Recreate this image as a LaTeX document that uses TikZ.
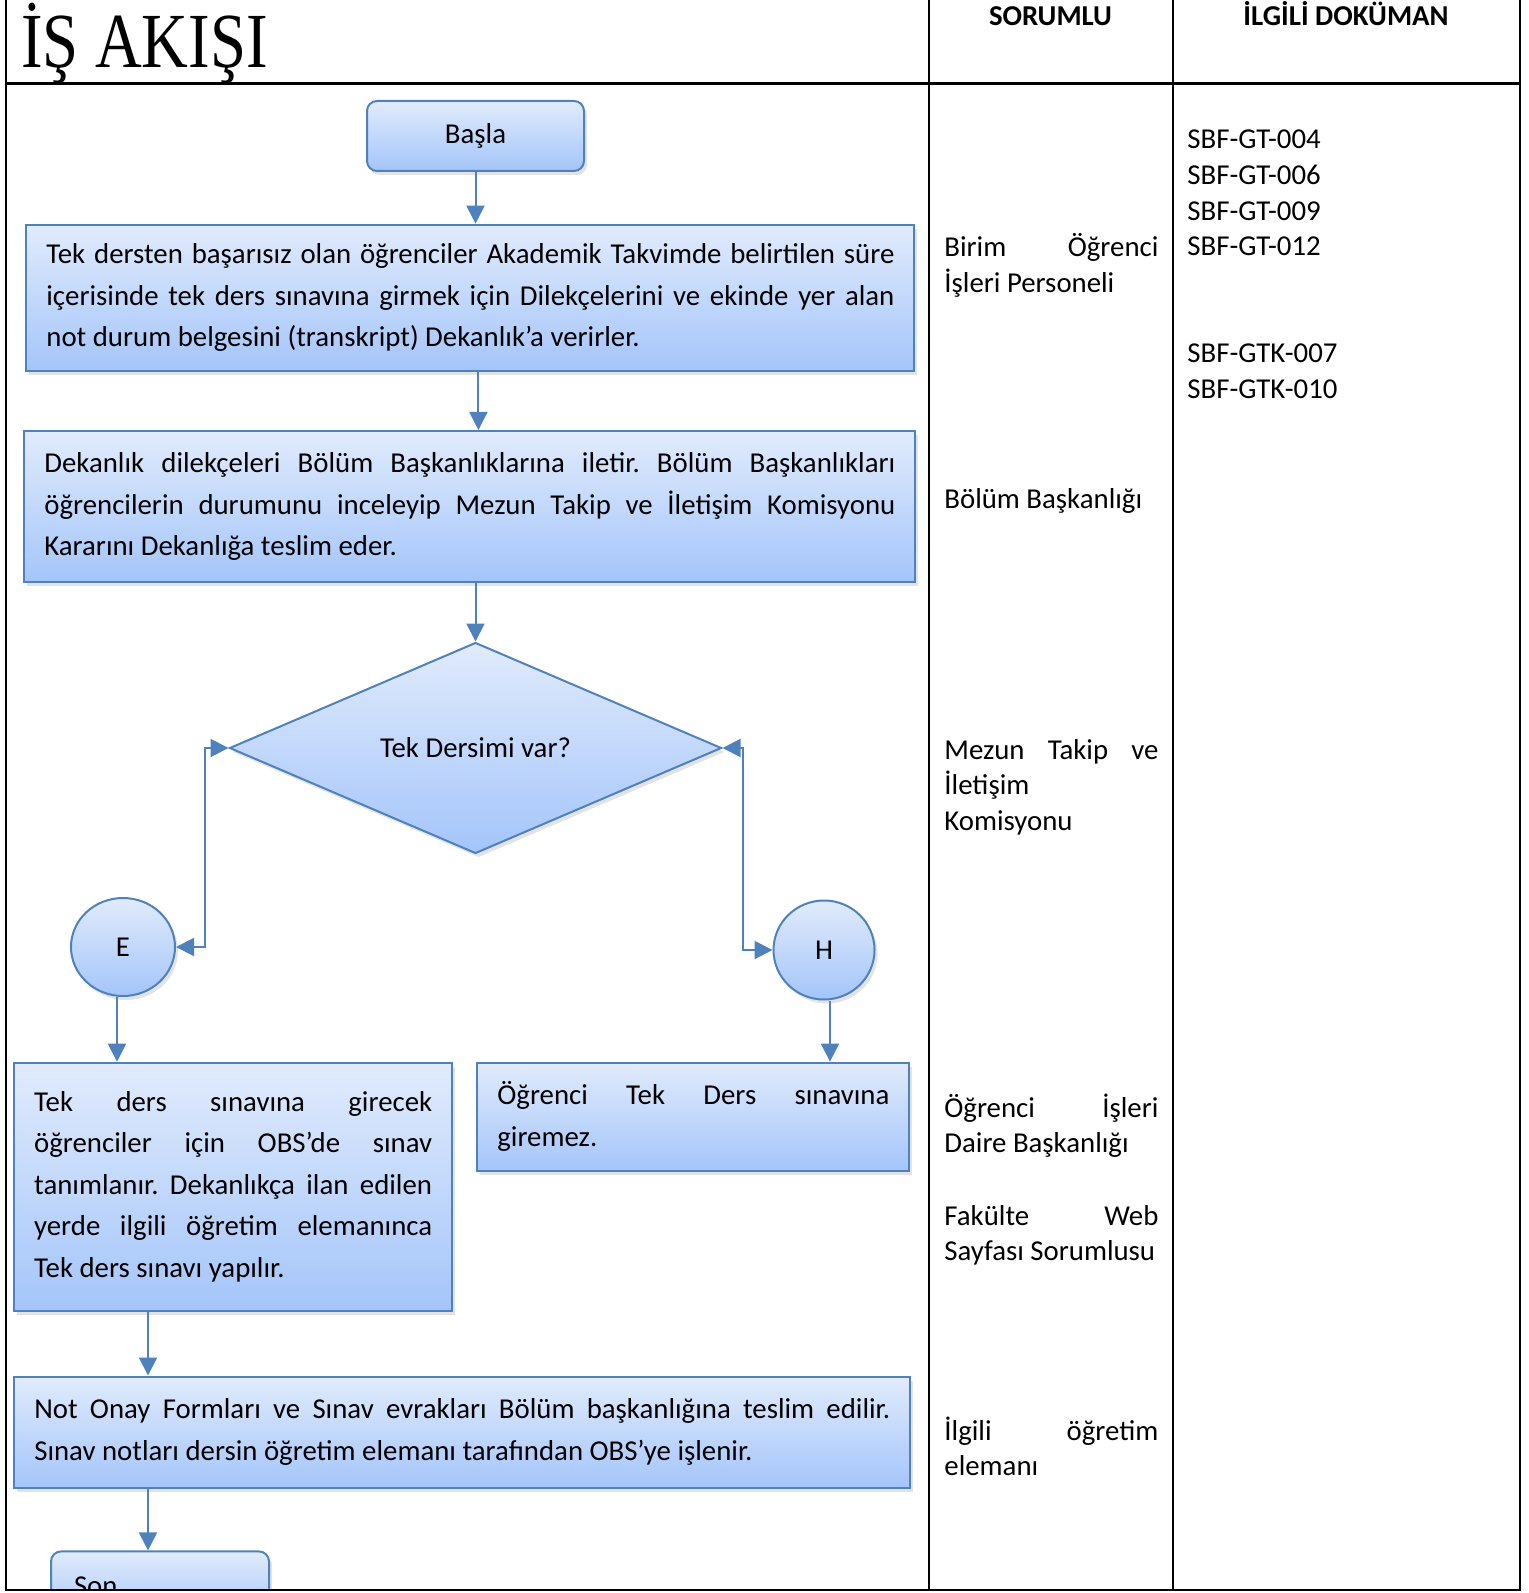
\documentclass[tikz,border=0pt]{standalone}
\usepackage{fontspec}
\setmainfont{Carlito}
\newfontfamily\titlefont{Liberation Serif}
\usetikzlibrary{shapes.geometric,arrows.meta,shadows}

\definecolor{boxtop}{RGB}{225,235,252}
\definecolor{boxbot}{RGB}{164,197,250}
\definecolor{boxline}{RGB}{79,129,189}

\frenchspacing
\hyphenpenalty=10000

\begin{document}
\begin{tikzpicture}[x=0.5pt,y=-0.5pt,
    every node/.style={font=\fontsize{14.4}{20.8}\selectfont},
    box/.style={draw=boxline, line width=1pt, top color=boxtop, bottom color=boxbot,
        drop shadow={shadow xshift=1.5pt, shadow yshift=-2pt, opacity=0.22}},
    stepbox/.style={box, rectangle, align=justify, inner xsep=10pt, inner ysep=0pt},
    endbox/.style={box, rectangle, rounded corners=5pt},
    colbox/.style={anchor=base west, inner sep=0pt, text width=107pt, align=justify,
        font=\fontsize{14.4}{17.8}\selectfont},
    flow/.style={draw=boxline, line width=1pt, -{Triangle[length=9pt,width=9pt]}},
    flowboth/.style={draw=boxline, line width=1pt,
        {Triangle[length=9pt,width=9pt]}-{Triangle[length=9pt,width=9pt]}}]
    \useasboundingbox (0,0) rectangle (1528,1593);

    % header
    \node[anchor=base west, inner sep=0pt] (title) at (21,68)
        {\titlefont\fontsize{39}{40}\selectfont\scalebox{0.83}[1]{İŞ AKIŞI}};
    \node[anchor=base, inner sep=0pt] (hsor) at (1050.5,26) {\bfseries SORUMLU};
    \node[anchor=base, inner sep=0pt] (hdok) at (1346,26) {\bfseries İLGİLİ DOKÜMAN};

    % flow
    \node[endbox, minimum width=108.5pt, minimum height=35pt] (basla) at (475.5,136) {Başla};
    \node[stepbox, text width=424pt, minimum height=73pt] (dilekce) at (470.4,297.7)
        {Tek dersten başarısız olan öğrenciler Akademik Takvimde belirtilen süre\linebreak
         içerisinde tek ders sınavına girmek için Dilekçelerini ve ekinde yer alan\linebreak
         not durum belgesini (transkript) Dekanlık’a verirler.};
    \node[stepbox, text width=425.5pt, minimum height=75.5pt] (dekanlik) at (469.9,506.5)
        {Dekanlık dilekçeleri Bölüm Başkanlıklarına iletir. Bölüm Başkanlıkları\linebreak
         öğrencilerin durumunu inceleyip Mezun Takip ve İletişim Komisyonu\linebreak
         Kararını Dekanlığa teslim eder.};
    \node[box, diamond, inner sep=0pt, minimum width=246pt, minimum height=104pt] (karar) at (475.5,748)
        {Tek Dersimi var?};
    \node[box, ellipse, minimum width=52pt, minimum height=49pt] (evet) at (123,947) {E};
    \node[box, ellipse, minimum width=50.5pt, minimum height=49.5pt] (hayir) at (824,950) {H};
    \node[stepbox, text width=199pt, minimum height=124pt] (sinav) at (233.2,1186.7)
        {Tek ders sınavına girecek\linebreak
         öğrenciler için OBS’de sınav\linebreak
         tanımlanır. Dekanlıkça ilan edilen\linebreak
         yerde ilgili öğretim elemanınca\linebreak
         Tek ders sınavı yapılır.};
    \node[stepbox, text width=196pt, minimum height=54pt] (giremez) at (693.4,1116.6)
        {Öğrenci Tek Ders sınavına\linebreak giremez.};
    \node[stepbox, text width=428pt, minimum height=55.5pt] (notlar) at (462.3,1432)
        {Not Onay Formları ve Sınav evrakları Bölüm başkanlığına teslim edilir.\linebreak
         Sınav notları dersin öğretim elemanı tarafından OBS’ye işlenir.};
    \node[endbox, text width=86pt, inner xsep=11.5pt, minimum height=35pt, align=left] (son) at (160,1586.4) {Son};
    \coordinate (hat) at (148,1400);

    \draw[flow] (basla) -- (basla.south |- dilekce.north);
    \draw[flow] ([xshift=4pt]dilekce.south) -- ([xshift=4pt]dilekce.south |- dekanlik.north);
    \draw[flow] (karar.north |- dekanlik.south) -- (karar.north);
    \draw[flowboth] (karar.west) -- ++(-24,0) |- (evet.east);
    \draw[flowboth] (karar.east) -- ++(20,0) |- (hayir.west);
    \draw[flow] ([xshift=-3pt]evet.south) -- ([xshift=-3pt]evet.south |- sinav.north);
    \draw[flow] ([xshift=3pt]hayir.south) -- ([xshift=3pt]hayir.south |- giremez.north);
    \draw[flow] (sinav.south -| hat) -- (notlar.north -| hat);
    \draw[flow] (notlar.south -| hat) -- (son.north -| hat);

    % sorumlu
    \node[colbox] (birim) at (944,257) {Birim Öğrenci\linebreak İşleri Personeli};
    \node[colbox] (bolum) at (944,508) {Bölüm Başkanlığı};
    \node[colbox] (mezun) at (944,759) {Mezun Takip ve\linebreak İletişim\newline Komisyonu};
    \node[colbox] (daire) at (944,1117) {Öğrenci İşleri\linebreak Daire Başkanlığı};
    \node[colbox] (web) at (944,1225) {Fakülte Web\linebreak Sayfası Sorumlusu};
    \node[colbox] (ogretim) at (944,1440) {İlgili öğretim\linebreak elemanı};

    % dokuman
    \node[anchor=base west, inner sep=0pt, text width=140pt, align=left, font=\fontsize{14.4}{17.8}\selectfont] (dok) at (1187,149)
        {SBF-GT-004\\SBF-GT-006\\SBF-GT-009\\SBF-GT-012\\[35.6pt]SBF-GTK-007\\SBF-GTK-010};

    % table
    \fill[white] (0,1591) rectangle (1528,1600);
    \draw[line width=1pt] (6,0) -- (6,1590) -- (1520,1590) -- (1520,0);
    \draw[line width=1.5pt] (6,83.3) -- (1520,83.3);
    \draw[line width=1pt] (928.6,0) -- (928.6,1590);
    \draw[line width=1pt] (1172.5,0) -- (1172.5,1590);
\end{tikzpicture}
\end{document}
